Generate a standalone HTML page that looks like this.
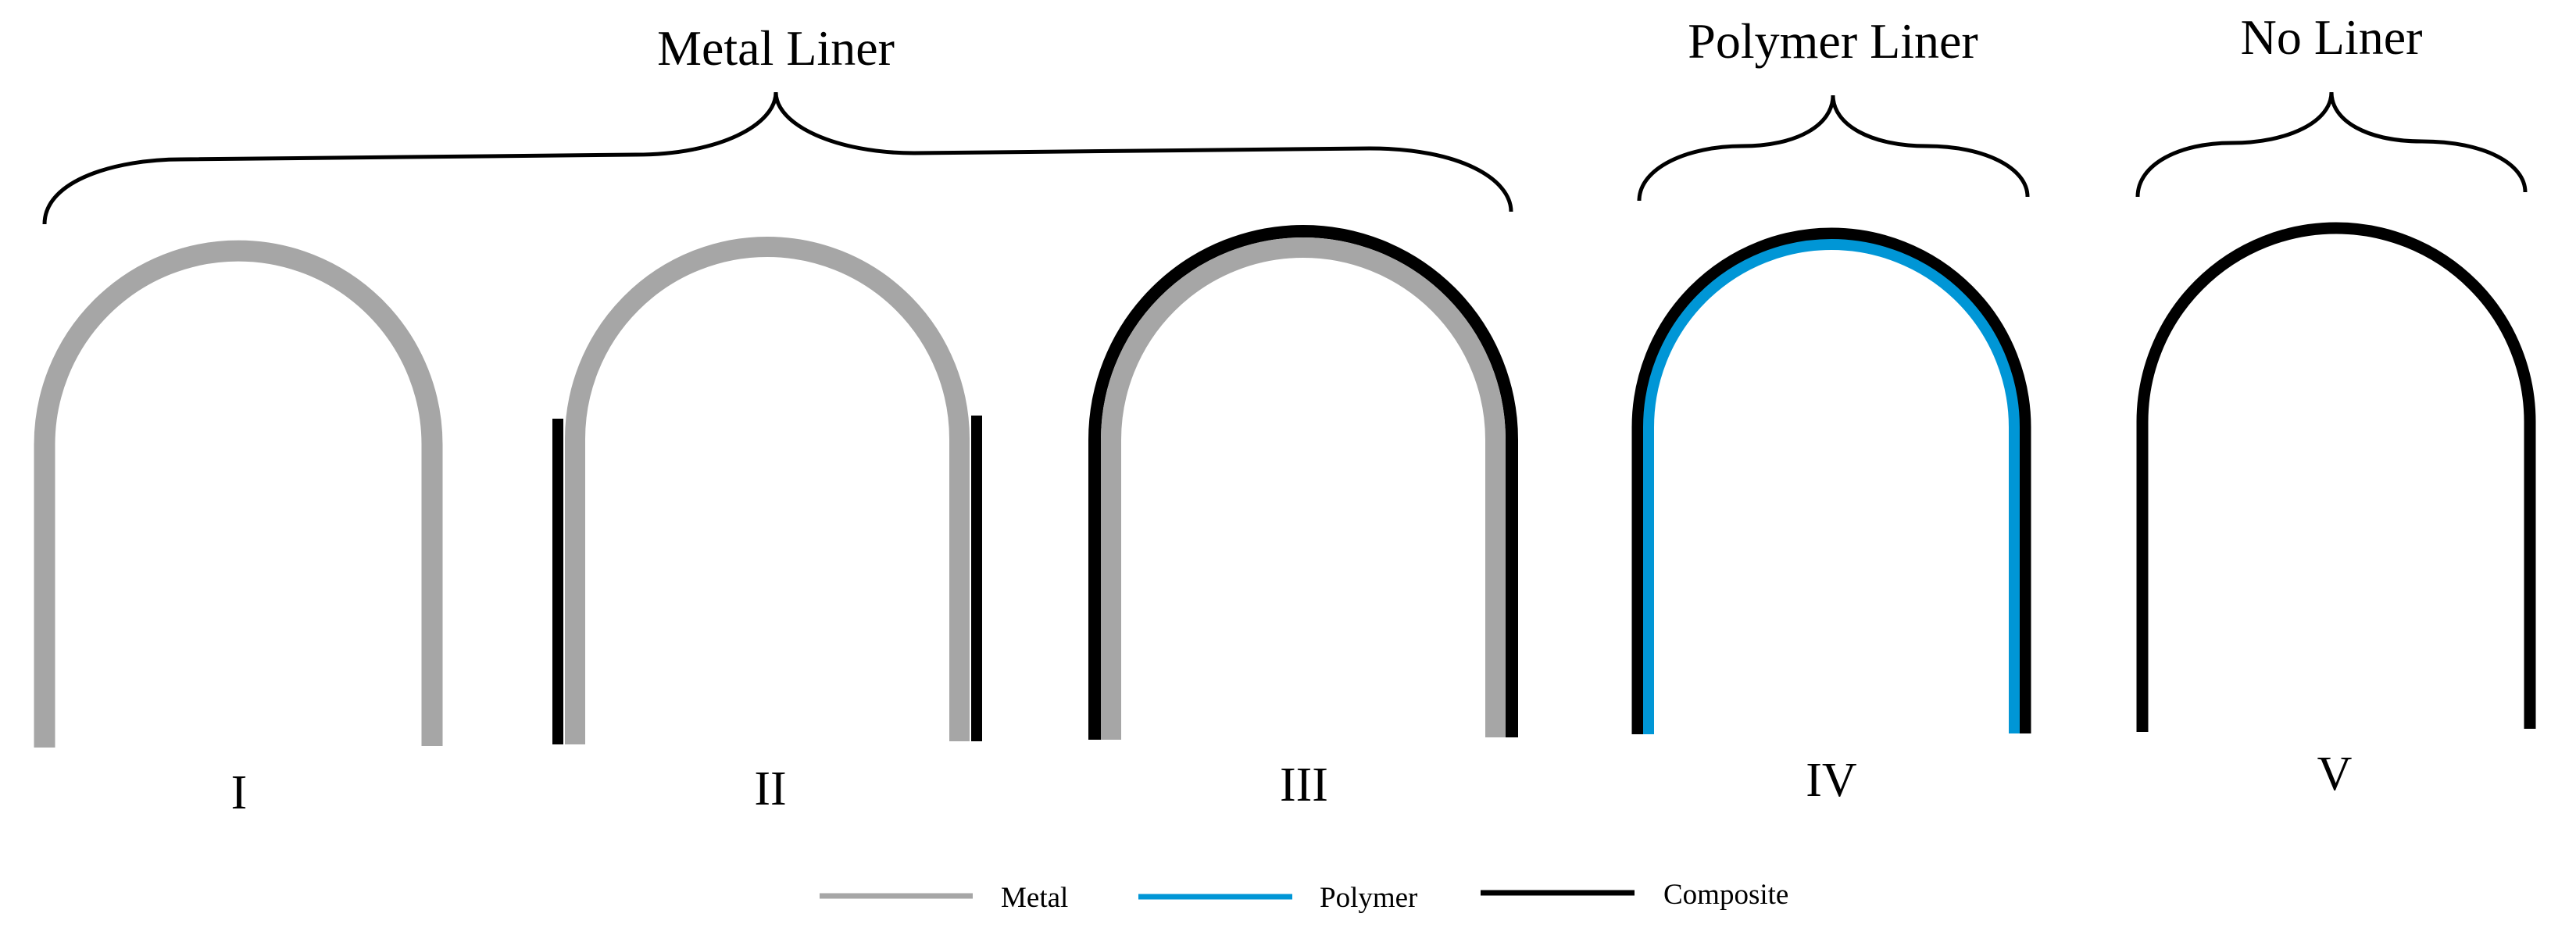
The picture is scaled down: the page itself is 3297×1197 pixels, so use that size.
<!DOCTYPE html>
<html><head><meta charset="utf-8"><style>
html,body{margin:0;padding:0;background:#fff;}
svg{display:block;}
text{font-family:"Liberation Serif",serif;fill:#000;}
</style></head><body>
<svg width="3297" height="1197" viewBox="0 0 3297 1197" xmlns="http://www.w3.org/2000/svg">
<g fill="none" stroke-linecap="butt">
<!-- brackets -->
<path d="M57 287 C57 230 150 204 232 204 L814 198 C920 198 993 160 993 118 C993 160 1070 196 1170 196 L1753 190 C1870 190 1934 230 1934 271" stroke="#000" stroke-width="5"/>
<path d="M2098 257 C2098 215 2160 187 2230 187 C2300 187 2346 160 2346 122 C2346 160 2395 187 2466 187 C2540 187 2595 215 2595 252" stroke="#000" stroke-width="5"/>
<path d="M2736 252 C2736 210 2790 183 2856 183 C2930 183 2984 155 2984 118 C2984 155 3030 181 3100 181 C3180 181 3232 210 3232 246" stroke="#000" stroke-width="5"/>
<!-- I -->
<path d="M57 957 V569 A248 248 0 0 1 553 569 V955" stroke="#a6a6a6" stroke-width="27"/>
<!-- II -->
<path d="M736 953 V562 A246 246 0 0 1 1228 562 V949" stroke="#a6a6a6" stroke-width="26"/>
<line x1="714" y1="536" x2="714" y2="953" stroke="#000" stroke-width="14"/>
<line x1="1250" y1="532" x2="1250" y2="949" stroke="#000" stroke-width="14"/>
<!-- III -->
<path d="M1401 947 V563 A267 267 0 0 1 1935 563 V944" stroke="#000" stroke-width="16"/>
<path d="M1422 947 V563 A246 246 0 0 1 1914 563 V944" stroke="#a6a6a6" stroke-width="26"/>
<!-- IV -->
<path d="M2096 940 V547 A248 248 0 0 1 2592 547 V939" stroke="#000" stroke-width="15"/>
<path d="M2110 940 V547 A234 234 0 0 1 2578 547 V939" stroke="#0096d6" stroke-width="14"/>
<!-- V -->
<path d="M2742 937 V540 A248 248 0 0 1 3238 540 V933" stroke="#000" stroke-width="15"/>
<!-- legend lines -->
<line x1="1049" y1="1147" x2="1245" y2="1147" stroke="#a6a6a6" stroke-width="7"/>
<line x1="1457" y1="1148" x2="1654" y2="1148" stroke="#0096d6" stroke-width="7"/>
<line x1="1895" y1="1143" x2="2092" y2="1143" stroke="#000" stroke-width="7"/>
</g>
<text x="993" y="83" font-size="64" text-anchor="middle">Metal Liner</text>
<text x="2346" y="74" font-size="64" text-anchor="middle">Polymer Liner</text>
<text x="2984" y="69" font-size="64" text-anchor="middle">No Liner</text>
<text x="306" y="1035" font-size="62" text-anchor="middle">I</text>
<text x="986" y="1030" font-size="62" text-anchor="middle">II</text>
<text x="1669" y="1025" font-size="62" text-anchor="middle">III</text>
<text x="2344" y="1019" font-size="62" text-anchor="middle">IV</text>
<text x="2988" y="1011" font-size="62" text-anchor="middle">V</text>
<text x="1281" y="1161" font-size="37">Metal</text>
<text x="1689" y="1161" font-size="37">Polymer</text>
<text x="2129" y="1157" font-size="37">Composite</text>
</svg>
</body></html>
